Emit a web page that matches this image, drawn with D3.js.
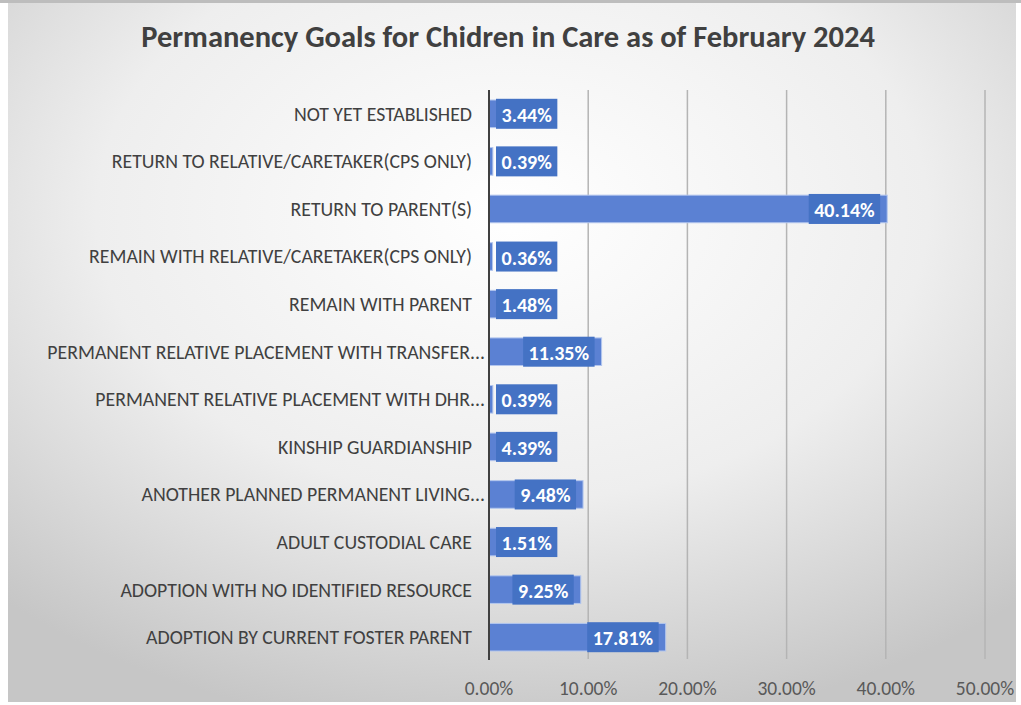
<!DOCTYPE html>
<html>
<head>
<meta charset="utf-8">
<script src="https://cdn.jsdelivr.net/npm/d3@7"></script>
<style>
  body { margin: 0; background: #fff; }
  svg { display: block; font-family: Carlito, Lato, "Noto Sans", sans-serif; }
</style>
</head>
<body>
<svg id="chart"></svg>
<script>
// values, top to bottom
const categories = [
    "NOT YET ESTABLISHED",
    "RETURN TO RELATIVE/CARETAKER(CPS ONLY)",
    "RETURN TO PARENT(S)",
    "REMAIN WITH RELATIVE/CARETAKER(CPS ONLY)",
    "REMAIN WITH PARENT",
    "PERMANENT RELATIVE PLACEMENT WITH TRANSFER...",
    "PERMANENT RELATIVE PLACEMENT WITH DHR...",
    "KINSHIP GUARDIANSHIP",
    "ANOTHER PLANNED PERMANENT LIVING...",
    "ADULT CUSTODIAL CARE",
    "ADOPTION WITH NO IDENTIFIED RESOURCE",
    "ADOPTION BY CURRENT FOSTER PARENT"
];
const percents = [3.44, 0.39, 40.14, 0.36, 1.48, 11.35, 0.39, 4.39, 9.48, 1.51, 9.25, 17.81];
const xTicks = [0, 10, 20, 30, 40, 50];

const width = 1021, height = 705;
const svg = d3.select("#chart").attr("width", width).attr("height", height);

// background panel with soft radial shading
const defs = svg.append("defs");
const grad = defs.append("radialGradient").attr("id", "bg")
    .attr("cx", "50%").attr("cy", "30%").attr("r", "75%");
grad.append("stop").attr("offset", "0%").attr("stop-color", "#ffffff");
grad.append("stop").attr("offset", "55%").attr("stop-color", "#eeeeee");
grad.append("stop").attr("offset", "100%").attr("stop-color", "#c6c6c6");

svg.append("rect").attr("x", 0).attr("y", 0).attr("width", width).attr("height", 3).attr("fill", "#bdbdbd");
svg.append("rect").attr("x", 8).attr("y", 3).attr("width", 1008).attr("height", 699).attr("fill", "url(#bg)");

svg.append("text")
    .attr("x", 508).attr("y", 47)
    .attr("text-anchor", "middle")
    .attr("font-size", 30.5).attr("font-weight", "bold")
    .attr("fill", "#404040")
    .text("Permanency Goals for Chidren in Care as of February 2024");

const x = d3.scaleLinear().domain([0, 50]).range([489, 985]);
const y = d3.scaleBand().domain(categories).range([90, 661])
    .paddingInner(0.42).paddingOuter(0.21);

// gridlines
svg.append("g").selectAll("line")
    .data(xTicks.slice(1))
    .join("line")
    .attr("x1", d => x(d)).attr("x2", d => x(d))
    .attr("y1", 90).attr("y2", 659)
    .attr("stroke", "#b4b4b4").attr("stroke-width", 1.5);

// tick labels
svg.append("g").selectAll("text")
    .data(xTicks)
    .join("text")
    .attr("x", d => x(d)).attr("y", 695)
    .attr("text-anchor", "middle")
    .attr("font-size", 19.5).attr("fill", "#595959")
    .text(d => d3.format(".2f")(d) + "%");

// category labels (truncated ones sit a bit further right, like Excel does)
svg.append("g").selectAll("text")
    .data(categories)
    .join("text")
    .attr("x", d => d.endsWith("...") ? 485 : 472)
    .attr("y", d => y(d) + y.bandwidth() / 2)
    .attr("dy", "0.35em")
    .attr("text-anchor", "end")
    .attr("font-size", 19.8).attr("fill", "#404040")
    .text(d => d);

// bars
const rows = categories.map((c, i) => ({ cat: c, v: percents[i] }));
svg.append("g").selectAll("rect")
    .data(rows)
    .join("rect")
    .attr("x", x(0)).attr("y", d => y(d.cat))
    .attr("width", d => x(d.v) - x(0))
    .attr("height", y.bandwidth())
    .attr("fill", "#5b81d3")
    .attr("stroke", "#b3c6ee").attr("stroke-width", 1);

// axis line
svg.append("line")
    .attr("x1", x(0)).attr("x2", x(0))
    .attr("y1", 90).attr("y2", 660)
    .attr("stroke", "#404040").attr("stroke-width", 2);

// data label boxes
const labels = svg.append("g").selectAll("g")
    .data(rows)
    .join("g");

labels.each(function (d) {
    const g = d3.select(this);
    const t = g.append("text")
        .attr("font-size", 20).attr("font-weight", "bold")
        .attr("fill", "#ffffff")
        .attr("text-anchor", "middle")
        .attr("dy", "0.35em")
        .text(d3.format(".2f")(d.v) + "%");
    const w = t.node().getComputedTextLength() + 11;
    let right = x(d.v) - 7;
    if (right - w < x(0) + 7) right = x(0) + 7 + w;
    const cy = y(d.cat) + y.bandwidth() / 2;
    g.insert("rect", "text")
        .attr("x", right - w).attr("y", cy - 15)
        .attr("width", w).attr("height", 30)
        .attr("fill", "#4472c4");
    t.attr("x", right - w / 2).attr("y", cy + 1);
});
</script>
</body>
</html>
